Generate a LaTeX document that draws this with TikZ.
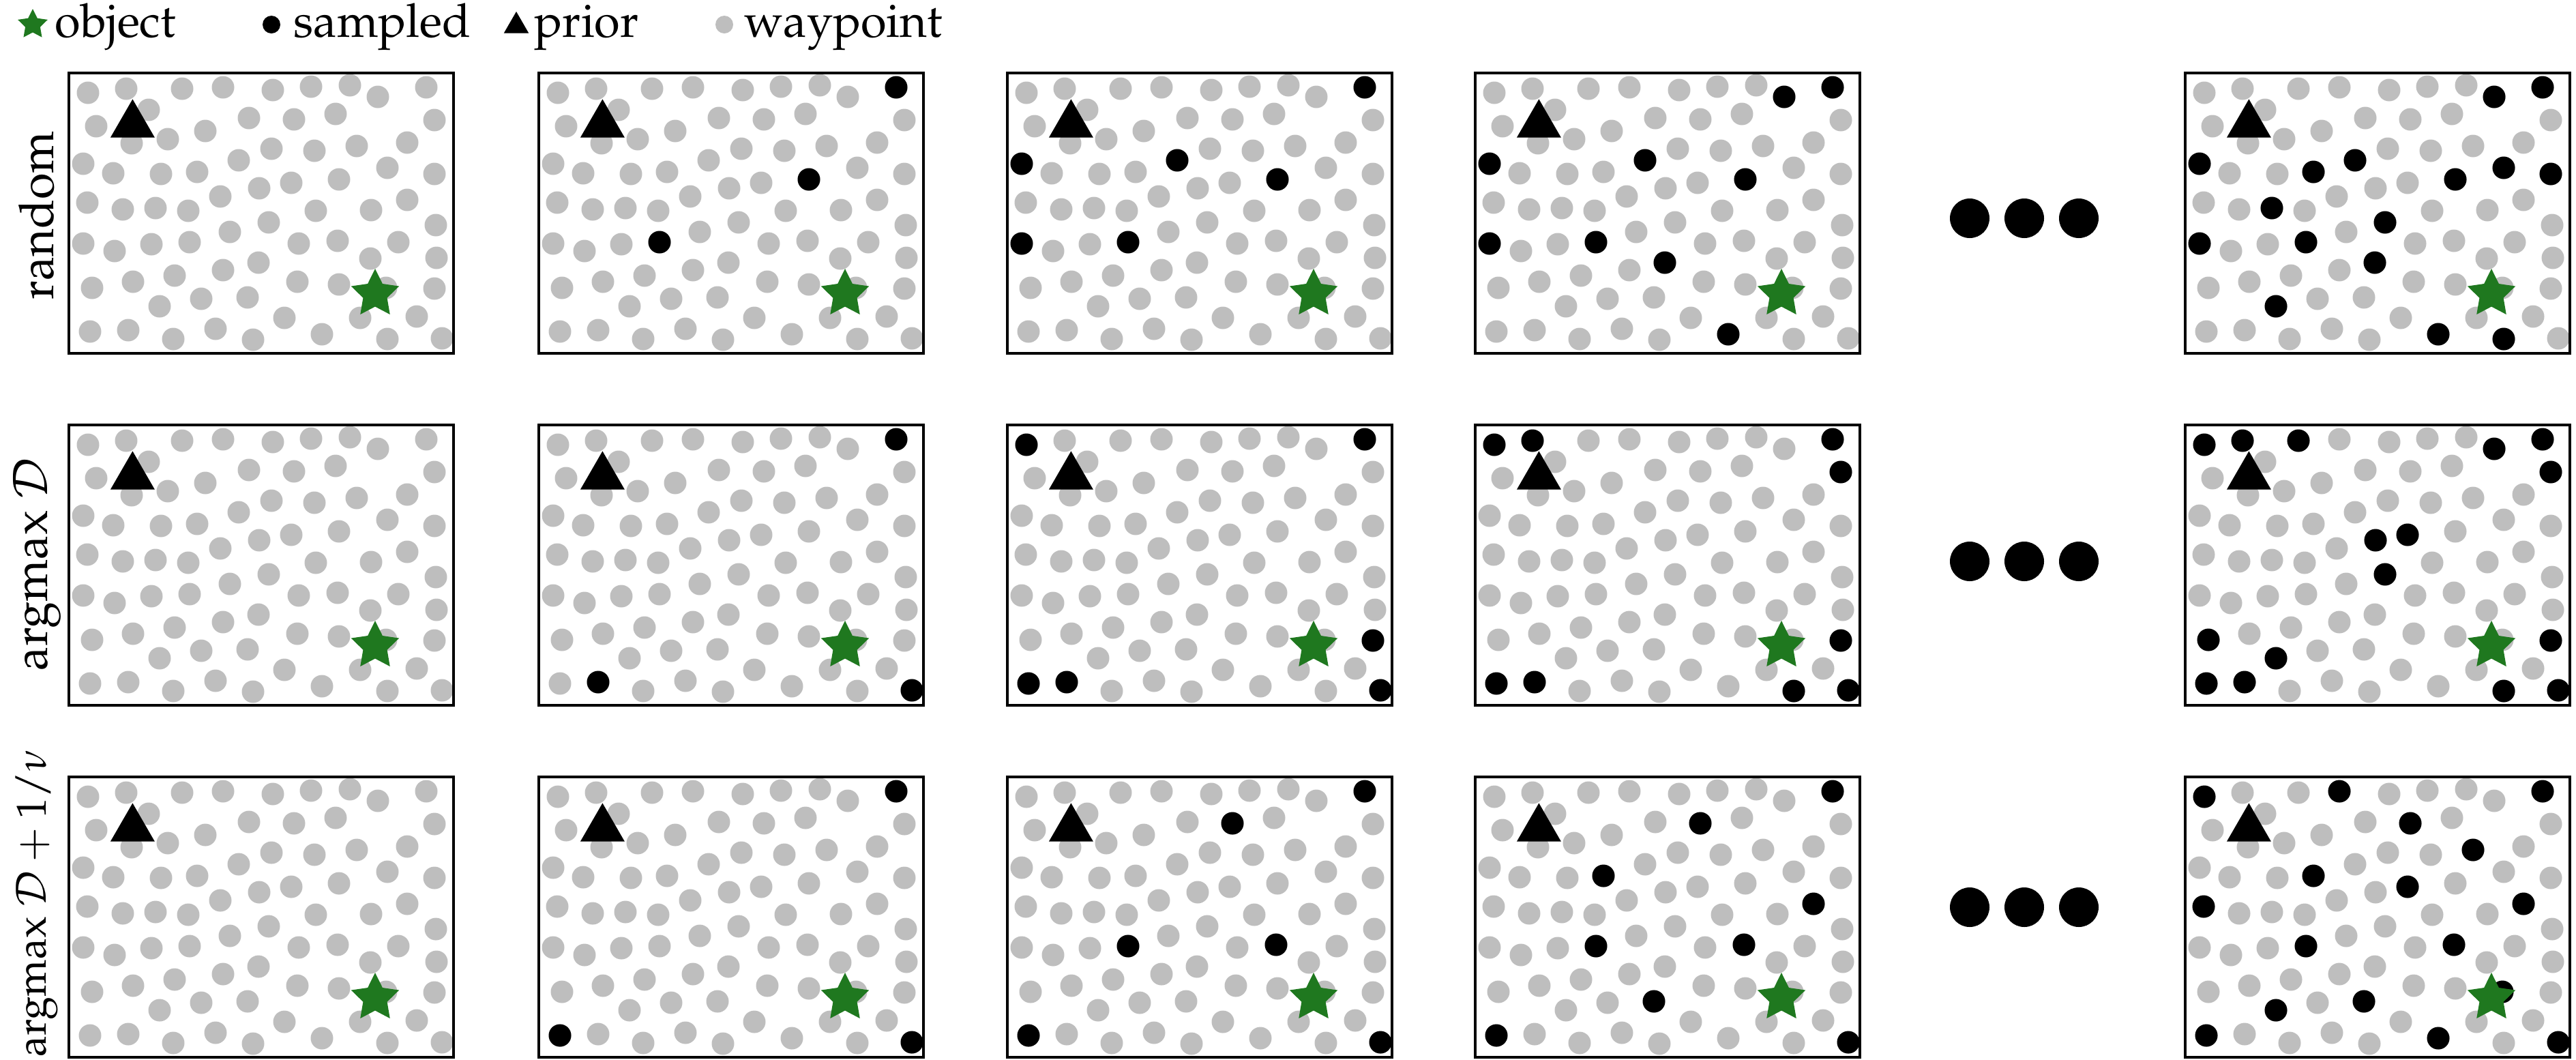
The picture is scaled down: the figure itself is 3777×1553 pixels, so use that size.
\documentclass[tikz,border=0pt]{standalone}
\usepackage[T1]{fontenc}
\usepackage{mathpazo}
\usetikzlibrary{shapes.geometric}
\definecolor{wpgray}{RGB}{190,190,190}
\definecolor{objgreen}{RGB}{31,120,31}
\tikzset{
  objstar/.style={star, star points=5, star point ratio=2.0, fill=objgreen, inner sep=0pt, minimum size=0.74cm},
  priortri/.style={regular polygon, regular polygon sides=3, fill=black, inner sep=0pt, minimum size=0.75cm},
  panelframe/.style={draw=black, line width=1.15pt},
  lbl/.style={font=\fontsize{19.5}{23}\selectfont, inner sep=0pt},
  rowlbl/.style={font=\fontsize{20}{24}\selectfont, inner sep=0pt, rotate=90},
}
\newcommand\wplist{1/28/29, 2/84/23, 3/166/23, 4/226/21, 5/299/25, 6/355/20, 7/412/18, 8/453/35, 9/524/21,
10/117/54, 11/40/78, 12/264/66, 13/330/68, 14/391/60, 15/536/69, 16/200/85, 17/145/97, 18/92/103, 19/422/107, 20/496/102, 21/297/111, 22/360/114,
23/21/133, 24/65/147, 25/135/148, 26/188/145, 27/249/128, 28/467/139, 29/536/148, 30/279/169, 31/326/161, 32/396/156,
33/27/190, 34/79/200, 35/127/198, 36/175/202, 37/222/181, 38/362/202, 39/443/201, 40/496/186, 41/293/219, 42/538/223,
43/21/250, 44/67/261, 45/121/251, 46/177/248, 47/236/233, 48/337/250, 49/394/246, 50/483/248, 51/442/272, 52/539/271, 53/278/278,
54/34/315, 55/94/306, 56/155/297, 57/226/289, 58/335/306, 59/396/310, 60/465/315, 61/536/316, 62/133/342, 63/194/331, 64/262/329,
65/31/379, 66/87/377, 67/153/390, 68/215/375, 69/270/391, 70/316/359, 71/371/383, 72/427/359, 73/467/390, 74/510/357, 75/547/389}
% #1 x, #2 y, #3 sampled list, #4 id
\newcommand\drawpanel[4]{%
  \begin{scope}[shift={(#1,#2)}]
    \foreach \n/\a/\b in \wplist {\fill[wpgray] (\a,\b) circle[radius=16.5]; \coordinate (p\n) at (\a,\b);}
    \if\relax\detokenize{#3}\relax\else
      \foreach \k in {#3} {\fill[black] (p\k) circle[radius=16.5];}
    \fi
    \node[priortri] (prior-#4) at (93.4,75.9) {};
    \node[objstar] (obj-#4) at (449,324) {};
    \draw[panelframe] (0,0) rectangle (564,411);
  \end{scope}}
\begin{document}
\begin{tikzpicture}[x=0.01cm, y=-0.01cm]
\useasboundingbox (0,0) rectangle (3777,1553);
% legend
\node[objstar, minimum size=0.46cm] (lg-star) at (48,36) {};
\node[lbl, anchor=base west] (lg-obj) at (80,54) {object};
\fill[black] (398,36) circle[radius=13];
\node[lbl, anchor=base west] (lg-smp) at (430,54) {sampled};
\node[priortri, minimum size=0.42cm] (lg-tri) at (757,38) {};
\node[lbl, anchor=base west] (lg-pri) at (783,54) {prior};
\fill[wpgray] (1062,36) circle[radius=13];
\node[lbl, anchor=base west] (lg-wp) at (1091,54) {waypoint};
% row labels
\node[rowlbl] (lab-r1) at (54,316) {random};
\node[rowlbl] (lab-r2) at (54,827) {argmax $\mathcal{D}$};
\node[rowlbl, font=\fontsize{17.5}{21}\selectfont, anchor=west] (lab-r3) at (54,1550) {argmax $\mathcal{D}+1/\nu$};
% row 1
\drawpanel{101}{107}{}{r1c1}
\drawpanel{790}{107}{9,32,46}{r1c2}
\drawpanel{1477}{107}{9,23,27,32,43,46}{r1c3}
\drawpanel{2163}{107}{8,9,23,27,32,43,46,53,71}{r1c4}
\drawpanel{3204}{107}{8,9,23,26,27,28,29,32,35,41,43,46,53,62,71,73}{r1c5}
% row 2
\drawpanel{101}{623}{}{r2c1}
\drawpanel{790}{623}{9,66,75}{r2c2}
\drawpanel{1477}{623}{1,9,61,65,66,75}{r2c3}
\drawpanel{2163}{623}{1,2,9,15,61,65,66,73,75}{r2c4}
\drawpanel{3204}{623}{1,2,3,8,9,15,30,31,41,54,61,62,65,66,73,75}{r2c5}
% row 3
\drawpanel{101}{1139}{}{r3c1}
\drawpanel{790}{1139}{9,65,75}{r3c2}
\drawpanel{1477}{1139}{9,13,46,49,65,75}{r3c3}
\drawpanel{2163}{1139}{9,13,26,40,46,49,64,65,75}{r3c4}
\drawpanel{3204}{1139}{1,4,9,13,19,26,31,33,40,46,49,60,62,64,65,71,75}{r3c5}
% ellipses
\foreach \yy in {320, 823, 1330} {
  \foreach \xx in {2888,2968,3048} {\fill[black] (\xx,\yy) circle[radius=29];}
}
\end{tikzpicture}
\end{document}
